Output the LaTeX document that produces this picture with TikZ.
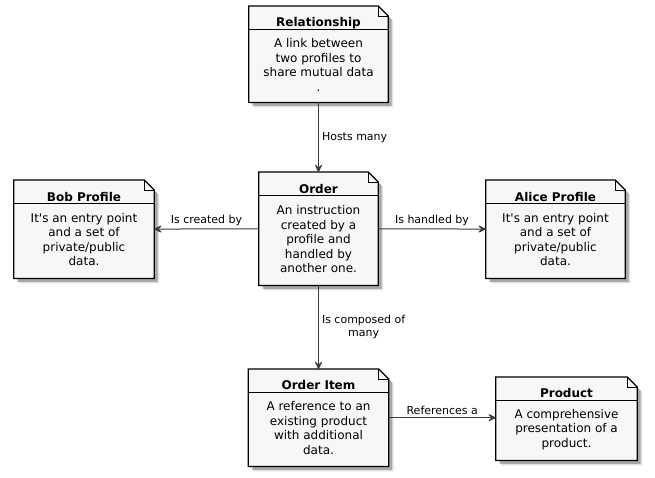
\documentclass[tikz,border=0pt]{standalone}
\usepackage{fontspec}
\setmainfont{DejaVu Sans}
\usetikzlibrary{arrows.meta,backgrounds}
\definecolor{notefill}{RGB}{247,247,247}
\definecolor{linkgray}{RGB}{60,60,60}
\tikzset{
  note/.style={rectangle, align=center, inner sep=0pt, anchor=north,
    font=\fontsize{12}{14.5}\selectfont},
  link/.style={draw=linkgray, line width=1pt,
    -{Stealth[length=10pt, width=9.5pt, inset=5pt, round]}},
  linktext/.style={font=\fontsize{11}{13.5}\selectfont, inner sep=3pt, align=center}
}
\newcommand{\notetitle}[1]{\textbf{#1}\\[6.5pt]}
\begin{document}
\begin{tikzpicture}[x=1pt, y=-1pt]
      \useasboundingbox (0,0) rectangle (655,477);
      %
      \node[note, minimum width=139, minimum height=96] (rel) at (318.5,6)
        {\notetitle{Relationship}A link between\\two profiles to\\share mutual data\\.};
      \node[note, minimum width=140, minimum height=98] (bob) at (84,180)
        {\notetitle{Bob Profile}It\textquotesingle s an entry point\\and a set of\\private/public\\data.};
      \node[note, minimum width=119, minimum height=113] (order) at (318.5,172)
        {\notetitle{Order}An instruction\\created by a\\profile and\\handled by\\another one.};
      \node[note, minimum width=139, minimum height=98] (alice) at (555.5,180)
        {\notetitle{Alice Profile}It\textquotesingle s an entry point\\and a set of\\private/public\\data.};
      \node[note, minimum width=140, minimum height=97] (item) at (318.5,369)
        {\notetitle{Order Item}A reference to an\\existing product\\with additional\\data.};
      \node[note, minimum width=141, minimum height=83] (product) at (566.5,377)
        {\notetitle{Product}A comprehensive\\presentation of a\\product.};
      %
      \begin{scope}[on background layer]
        \foreach \n in {rel,bob,order,alice,item,product}{
          \fill[black, opacity=0.12] ([shift={(5pt,-5pt)}]\n.north west) -- ([shift={(-5pt,-5pt)}]\n.north east)
            -- ([shift={(5pt,-15pt)}]\n.north east) -- ([shift={(5pt,-5pt)}]\n.south east)
            -- ([shift={(5pt,-5pt)}]\n.south west) -- cycle;
          \fill[black, opacity=0.25] ([shift={(3.5pt,-3.5pt)}]\n.north west) -- ([shift={(-6.5pt,-3.5pt)}]\n.north east)
            -- ([shift={(3.5pt,-13.5pt)}]\n.north east) -- ([shift={(3.5pt,-3.5pt)}]\n.south east)
            -- ([shift={(3.5pt,-3.5pt)}]\n.south west) -- cycle;
          \filldraw[fill=notefill, draw=black, line width=1.2pt, line join=miter]
            (\n.north west) -- ([xshift=-10pt]\n.north east) -- ([yshift=-10pt]\n.north east)
            -- (\n.south east) -- (\n.south west) -- cycle;
          \draw[line width=0.8pt] ([xshift=-10pt]\n.north east) |- ([yshift=-10pt]\n.north east);
          \draw[line width=0.8pt] ([yshift=-23pt]\n.north west) -- ([yshift=-23pt]\n.north east);
        }
      \end{scope}
      %
      \draw[link] (rel) -- node[linktext, right] {Hosts many} (order);
      \draw[link] (order) -- node[linktext, above] {Is created by} (bob);
      \draw[link] (order) -- node[linktext, above] {Is handled by} (alice);
      \draw[link] (order) -- node[linktext, right] {Is composed of\\many} (item);
      \draw[link] (item.east) -- node[linktext, above] {References a} (item.east -| product.west);
      %
    \end{tikzpicture}
\end{document}
